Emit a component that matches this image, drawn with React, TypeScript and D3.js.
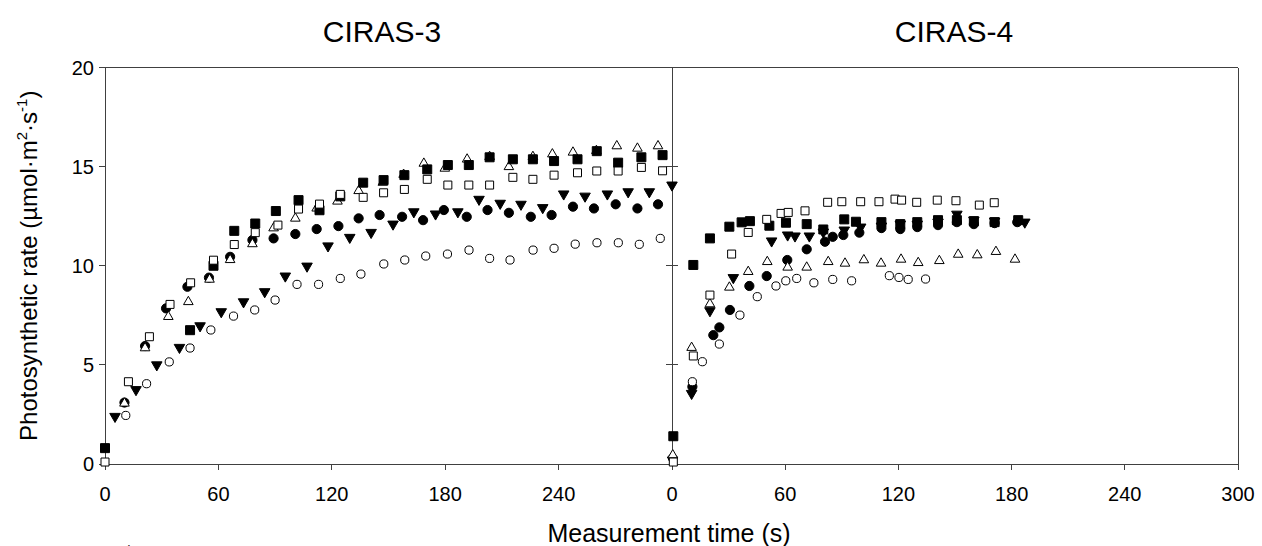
import React from "react";
import * as d3 from "d3";

type Pt = [number, number];

// ---------- DATA (time s, photosynthetic rate) ----------
const panelTitles = ["CIRAS-3", "CIRAS-4"];
const xTicksLeft = [0, 60, 120, 180, 240];
const xTicksRight = [0, 60, 120, 180, 240, 300];
const yTicks = [0, 5, 10, 15, 20];

// CIRAS-3
const c3FilledCircle: Pt[] = [[10.3,3.1],[21.2,5.95],[32.3,7.85],[43.6,8.94],[55,9.4],[66.2,10.45],[78,11.3],[89.2,11.38],[100.7,11.6],[112,11.85],[123.5,12.0],[134.2,12.39],[145.3,12.56],[157.2,12.47],[168.3,12.3],[179.3,12.81],[191.4,12.47],[202.4,12.81],[213.7,12.67],[225.3,12.47],[236.3,12.56],[247.6,12.98],[258.7,12.89],[270.2,13.1],[281.7,12.89],[292.6,13.1]];
const c3OpenCircle: Pt[] = [[11,2.45],[22,4.05],[34,5.15],[45,5.85],[56,6.76],[68,7.46],[79.2,7.77],[90,8.27],[101.6,9.06],[113,9.06],[124.5,9.36],[135.4,9.58],[147.5,10.09],[158.6,10.29],[169.7,10.49],[181.2,10.59],[192.6,10.79],[203.5,10.37],[214.3,10.29],[226.5,10.79],[237.6,10.88],[248.8,11.09],[260.3,11.16],[271.6,11.16],[282.7,11.08],[293.8,11.38]];
const c3FilledTriDown: Pt[] = [[5.3,2.4],[16.4,3.75],[27.4,5.0],[39.4,5.88],[50.3,6.97],[61.5,7.68],[73.3,8.18],[84.5,8.69],[95.4,9.48],[106.9,9.98],[118,11.0],[129.5,11.43],[140.8,11.68],[152.4,12.1],[163.4,12.72],[174.9,12.61],[186.7,12.72],[197.9,13.35],[209.1,13.15],[220.1,13.1],[231.6,12.93],[242.7,13.62],[254,13.51],[265.8,13.62],[276.8,13.73],[288,13.73],[300,14.07]];
const c3OpenTriUp: Pt[] = [[10.3,3.06],[21.2,5.85],[33.5,7.43],[44.1,8.18],[55.3,9.31],[66.2,10.3],[78,11.1],[89.2,11.9],[100.7,12.39],[112,12.9],[123,13.25],[134.2,13.78],[147,14.2],[158,14.6],[168.7,15.16],[179.8,14.91],[191.6,15.37],[203.5,15.5],[213.7,14.99],[226.4,15.5],[236.7,15.63],[247.6,15.72],[260,15.8],[270.8,16.04],[281.7,15.92],[292.6,16.04]];
const c3FilledSquare: Pt[] = [[0,0.8],[45,6.75],[57.4,10.0],[68.4,11.76],[79.5,12.13],[90.4,12.76],[102.4,13.31],[113.5,12.8],[124.5,13.5],[136.6,14.19],[147.4,14.32],[158.4,14.57],[170.5,14.86],[181.4,15.08],[192.5,15.08],[203.5,15.47],[215.8,15.37],[226.4,15.37],[237.6,15.28],[250,15.37],[260.2,15.78],[271.5,15.2],[283.8,15.47],[295,15.58]];
const c3OpenSquare: Pt[] = [[0,0.1],[12.4,4.15],[23.5,6.42],[34.4,8.05],[45.3,9.14],[57.4,10.28],[68.4,11.07],[79.5,11.67],[91.5,12.05],[102.4,12.86],[113.5,13.11],[124.5,13.6],[136.6,13.45],[147.4,13.68],[158.4,13.85],[170.5,14.36],[181.4,14.07],[192.5,14.07],[203.5,14.07],[215.8,14.46],[226.4,14.36],[237.6,14.57],[250,14.69],[260.2,14.78],[271.5,14.78],[283.8,14.96],[295,14.79]];

// CIRAS-4
const c4FilledCircle: Pt[] = [[10.8,3.9],[21.9,6.5],[25.1,6.89],[30.7,7.77],[41,8.98],[50.2,9.48],[61.1,10.29],[71.4,10.83],[81.1,11.21],[85.2,11.46],[90.8,11.55],[99.3,11.67],[111,11.9],[121,11.85],[130,11.95],[141,12.05],[151,12.2],[160,12.1],[171,12.15],[183,12.2]];
const c4OpenCircle: Pt[] = [[0.3,0.3],[10.8,4.15],[16.1,5.16],[25.1,6.05],[36,7.51],[45.2,8.44],[55.1,8.98],[60.3,9.24],[66.1,9.36],[75.2,9.14],[85.2,9.31],[95.2,9.24],[115.2,9.5],[120.3,9.41],[125.2,9.31],[134.4,9.33]];
const c4FilledTriDown: Pt[] = [[0.3,0.2],[10.4,3.56],[20.1,7.73],[32.5,9.4],[52.8,11.25],[61.3,11.55],[65.2,11.5],[72.8,11.5],[80.2,11.7],[91.3,11.8],[100,11.95],[111,12.0],[121,12.1],[130,12.1],[141,12.2],[151,12.6],[160,12.3],[171,12.25],[187,12.2]];
const c4OpenTriUp: Pt[] = [[0.4,0.45],[10.4,5.87],[20.1,8.07],[30.4,8.91],[40.4,9.7],[50.5,10.2],[61.3,9.92],[71.4,9.92],[82.8,10.2],[91.7,10.12],[101.7,10.29],[110.8,10.12],[121.4,10.32],[130.5,10.15],[141.7,10.25],[151.7,10.57],[161.8,10.54],[171.7,10.71],[181.8,10.32]];
const c4FilledSquare: Pt[] = [[0.7,1.4],[11.3,10.04],[20.1,11.38],[30.4,11.97],[36.9,12.19],[41.3,12.25],[51.6,12.02],[60.4,12.17],[71.4,12.1],[80.2,11.83],[91.3,12.34],[97.5,12.22],[111,12.2],[121,12.1],[130,12.2],[141,12.3],[151,12.3],[160,12.25],[171,12.2],[183.5,12.3]];
const c4OpenSquare: Pt[] = [[0.7,0.1],[11.3,5.45],[20.1,8.52],[31.6,10.59],[40.4,11.68],[50.2,12.34],[57.8,12.64],[61.6,12.69],[70.5,12.77],[82.5,13.2],[90,13.23],[100,13.23],[109.7,13.23],[118.2,13.36],[121.7,13.31],[129.7,13.2],[140.6,13.31],[150.5,13.28],[162.9,13.06],[170.8,13.18]];

// ---------- LAYOUT ----------
const W = 1262, H = 546;
const X0 = 105, XM = 672, X1 = 1238;
const YB = 464, YT = 67.5;
const FONT = "'Liberation Sans', Arial, sans-serif";
const AXIS = "#404040";

const xL = d3.scaleLinear().domain([0, 300]).range([X0, XM]);
const xR = d3.scaleLinear().domain([0, 300]).range([XM, X1]);
const y = d3.scaleLinear().domain([0, 20]).range([YB, YT]);

type Marker = { kind: "circle" | "square" | "triangle" | "triangleDown"; filled: boolean };
const markers: Marker[] = [
  { kind: "circle", filled: true },
  { kind: "circle", filled: false },
  { kind: "triangleDown", filled: true },
  { kind: "triangle", filled: false },
  { kind: "square", filled: true },
  { kind: "square", filled: false },
];

function symPath(m: Marker): string {
  const type = m.kind === "circle" ? d3.symbolCircle : m.kind === "square" ? d3.symbolSquare : d3.symbolTriangle;
  let size: number;
  if (m.kind === "circle") size = m.filled ? Math.PI * 4.6 * 4.6 : Math.PI * 4.1 * 4.1;
  else if (m.kind === "square") size = m.filled ? 81 : 64;
  else size = m.filled ? 48 : 40;
  return d3.symbol().type(type).size(size)() as string;
}

const leftSeries = [c3FilledCircle, c3OpenCircle, c3FilledTriDown, c3OpenTriUp, c3FilledSquare, c3OpenSquare];
const rightSeries = [c4FilledCircle, c4OpenCircle, c4FilledTriDown, c4OpenTriUp, c4FilledSquare, c4OpenSquare];

function Points({ data, m, x }: { data: Pt[]; m: Marker; x: d3.ScaleLinear<number, number> }) {
  const p = symPath(m);
  return (
    <g>
      {data.map((d, i) => (
        <path
          key={i}
          d={p}
          transform={`translate(${x(d[0])},${y(d[1])})${m.kind === "triangleDown" ? " rotate(180)" : ""}`}
          fill={m.filled ? "#000" : "#fff"}
          stroke="#000"
          strokeWidth={1}
        />
      ))}
    </g>
  );
}

export default function App() {
  return (
    <svg width={W} height={H} style={{ position: "absolute", left: 0, top: 0, background: "#fff" }} fontFamily={FONT}>
      <rect x={0} y={0} width={W} height={H} fill="#fff" />
      {/* titles */}
      <text x={382} y={42} fontSize={30} textAnchor="middle" fill="#000">{panelTitles[0]}</text>
      <text x={954} y={42} fontSize={30} textAnchor="middle" fill="#000">{panelTitles[1]}</text>

      {/* frame */}
      <g stroke={AXIS} strokeWidth={1} fill="none" shapeRendering="crispEdges">
        <line x1={X0} x2={X1} y1={YB} y2={YB} />
        <line x1={X0} x2={X1} y1={YT} y2={YT} />
        <line x1={X0} x2={X0} y1={YT} y2={YB} />
        <line x1={X1} x2={X1} y1={YT} y2={YB} />
        <line x1={XM} x2={XM} y1={YT} y2={YB} />
        {yTicks.map((t) => (
          <line key={"yl" + t} x1={X0 - 6} x2={X0} y1={y(t)} y2={y(t)} />
        ))}
        {yTicks.map((t) => (
          <line key={"ym" + t} x1={XM - 6} x2={XM + 6} y1={y(t)} y2={y(t)} />
        ))}
        {xTicksLeft.map((t) => (
          <line key={"xl" + t} x1={xL(t)} x2={xL(t)} y1={YB} y2={YB + 6} />
        ))}
        {xTicksRight.map((t) => (
          <line key={"xr" + t} x1={xR(t)} x2={xR(t)} y1={YB} y2={YB + 6} />
        ))}
      </g>

      {/* tick labels */}
      <g fontSize={20} fill="#000">
        {yTicks.map((t) => (
          <text key={"tyl" + t} x={X0 - 11} y={y(t) + 7} textAnchor="end">{t}</text>
        ))}
        {xTicksLeft.map((t) => (
          <text key={"txl" + t} x={xL(t)} y={501} textAnchor="middle">{t}</text>
        ))}
        {xTicksRight.map((t) => (
          <text key={"txr" + t} x={xR(t)} y={501} textAnchor="middle">{t}</text>
        ))}
      </g>

      {/* axis titles */}
      <text x={669} y={542} fontSize={25} textAnchor="middle" fill="#000">Measurement time (s)</text>
      <text transform={`translate(37,${(YT + YB) / 2}) rotate(-90)`} fontSize={24} textAnchor="middle" fill="#000">
        Photosynthetic rate (µmol·m<tspan dy={-10} fontSize={15}>2</tspan><tspan dy={10}>·s</tspan><tspan dy={-10} fontSize={15}>-1</tspan><tspan dy={10}>)</tspan>
      </text>

      {/* clipped caption fragment */}
      <text x={118} y={556} fontSize={15} fill="#333">Figure 1</text>

      {/* data */}
      {leftSeries.map((s, i) => (
        <Points key={"L" + i} data={s} m={markers[i]} x={xL} />
      ))}
      {rightSeries.map((s, i) => (
        <Points key={"R" + i} data={s} m={markers[i]} x={xR} />
      ))}
    </svg>
  );
}
